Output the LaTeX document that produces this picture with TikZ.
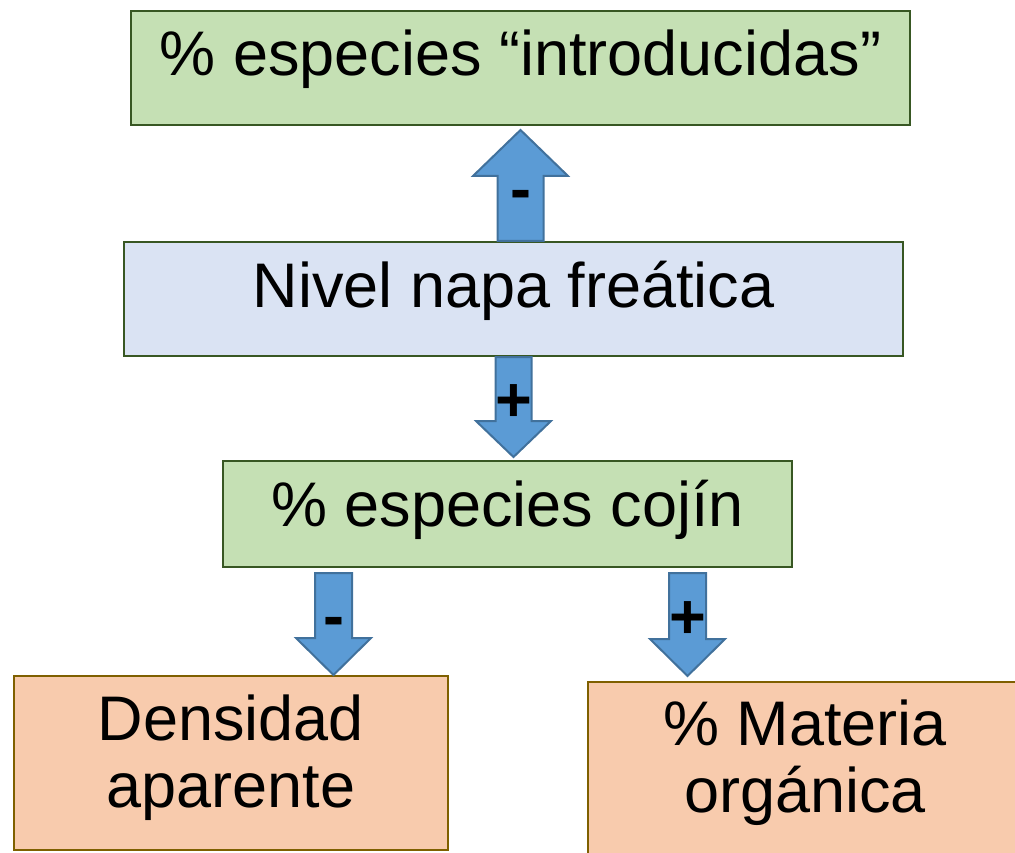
\documentclass[tikz,border=0pt]{standalone}
\usepackage{fontspec}
\setmainfont{Liberation Sans}
\usetikzlibrary{calc}

\definecolor{verde}{HTML}{C5E0B4}
\definecolor{verdeborde}{HTML}{385723}
\definecolor{azul}{HTML}{DAE3F3}
\definecolor{naranja}{HTML}{F8CBAD}
\definecolor{naranjaborde}{HTML}{7F6000}
\definecolor{flechafill}{HTML}{5B9BD5}
\definecolor{flechaborde}{HTML}{41719C}

\tikzset{
    caja/.style = {draw, line width=2pt, inner xsep=0pt, inner ysep=0pt,
        text height=65pt, align=center, font=\fontsize{63}{67}\selectfont},
    flecha/.style = {draw=flechaborde, fill=flechafill, line width=2pt, line join=miter},
    signo/.style = {inner sep=0pt, text height=38pt, text depth=0pt,
        font=\fontsize{63}{67}\selectfont\bfseries}
}

% block arrow: start, end, half shaft, half head, head length, name, sign
\newcommand{\flecha}[7]{%
  \draw[flecha] let \p1=(#1), \p2=(#2), \n1={sign(\y2-\y1)} in
      (\x1-#3,\y1) -- (\x1-#3,\y2-\n1*#5) -- (\x1-#4,\y2-\n1*#5) -- (\x1,\y2)
      -- (\x1+#4,\y2-\n1*#5) -- (\x1+#3,\y2-\n1*#5) -- (\x1+#3,\y1) -- cycle;
  \node[signo] (#6) at ($(#1)!0.45!(#2)$) {#7};
}

\begin{document}
\begin{tikzpicture}[x=1pt, y=-1pt]
\useasboundingbox (0,0) rectangle (1015,853);

\node[caja, fill=verde, draw=verdeborde, minimum width=779pt, text depth=49pt]
    (intro) at (520.5,68) {\% especies “introducidas”};
\node[caja, fill=azul, draw=verdeborde, minimum width=779pt, text depth=49pt]
    (nivel) at (513.5,299) {Nivel napa freática};
\node[caja, fill=verde, draw=verdeborde, minimum width=569pt, text depth=41pt]
    (cojin) at (507.5,514) {\% especies cojín};
\node[caja, fill=naranja, draw=naranjaborde, minimum width=434pt, text height=131pt, text depth=43pt]
    (dens) at (231,763) {Densidad\\aparente};
\node[caja, fill=naranja, draw=naranjaborde, minimum width=434pt, text height=130pt, text depth=50pt]
    (mat) at (805,772) {\% Materia\\orgánica};

\coordinate (c1) at ([xshift=-174pt, yshift=-5pt]cojin.south);
\coordinate (c2) at ([xshift=180pt, yshift=-5pt]cojin.south);

\flecha{nivel.north -| intro.south}{[yshift=-4pt]intro.south}{23pt}{47.5pt}{46pt}{s1}{-}
\flecha{nivel.south}{[yshift=3pt]nivel.south |- cojin.north}{18pt}{37.5pt}{36pt}{s2}{+}
\flecha{c1}{c1 |- dens.north}{18.5pt}{37.5pt}{37pt}{s3}{-}
\flecha{c2}{[yshift=5pt]c2 |- mat.north}{18.5pt}{37.5pt}{37pt}{s4}{+}
\end{tikzpicture}
\end{document}
